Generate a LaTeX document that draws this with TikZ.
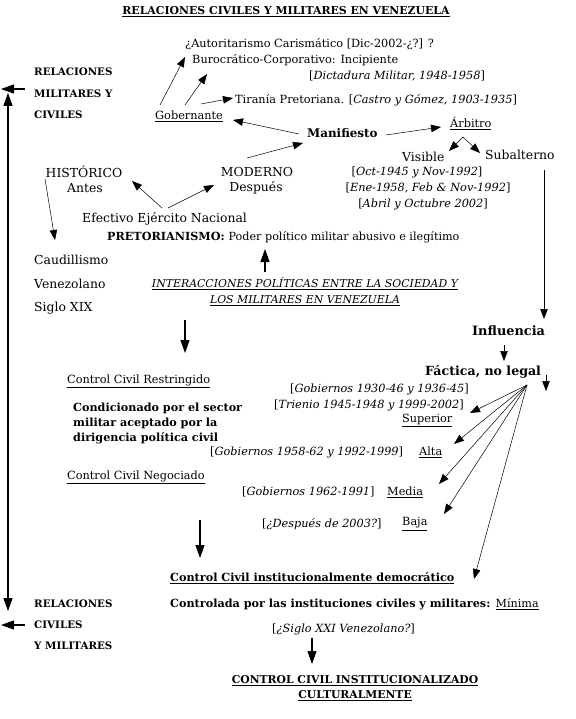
\documentclass[tikz,border=0pt]{standalone}
\usepackage{fontspec}
\setmainfont{DejaVu Serif}
\usetikzlibrary{arrows.meta}
\begin{document}
\begin{tikzpicture}[x=1pt,y=-1pt,
  lbl/.style={anchor=west,inner sep=0pt,font=\fontsize{11.3}{13}\selectfont},
  lbig/.style={anchor=west,inner sep=0pt,font=\fontsize{12.4}{14}\selectfont},
  bl/.style={anchor=west,inner sep=0pt,font=\fontsize{11.2}{13}\selectfont\bfseries},
  blbig/.style={anchor=west,inner sep=0pt,font=\fontsize{12.6}{14}\selectfont\bfseries},
  blside/.style={anchor=west,inner sep=0pt,font=\fontsize{10.3}{12}\selectfont\bfseries},
  arr/.style={-{Triangle[length=10pt,width=7.5pt]},line width=0.5pt},
  bigarr/.style={-{Triangle[length=13pt,width=9pt]},line width=1.1pt}]
\useasboundingbox (0,0) rectangle (575,719);
\fill[white] (0,0) rectangle (575,719);
% title
\node[bl,anchor=center,font=\fontsize{10.9}{13}\selectfont\bfseries] (title) at (286,12) {\underline{RELACIONES CIVILES Y MILITARES EN VENEZUELA}};
% left top
\node[blside] (rm1) at (34,72) {RELACIONES};
\node[blside] (rm2) at (34,94) {MILITARES Y};
\node[blside] (rm3) at (34,115) {CIVILES};
\coordinate (la1) at (25,89);
\coordinate (la1e) at (1,89);
\draw[bigarr] (la1) -- (la1e);
\coordinate (vtop) at (8,93);
\coordinate (vbot) at (8,611);
\draw[{Triangle[length=13pt,width=9pt]}-{Triangle[length=13pt,width=9pt]},line width=1.1pt] (vtop) -- (vbot);
% left bottom
\node[blside] (rc1) at (34,604) {RELACIONES};
\node[blside] (rc2) at (34,625) {CIVILES};
\node[blside] (rc3) at (34,646) {Y MILITARES};
\coordinate (la2) at (25,625);
\coordinate (la2e) at (1,625);
\draw[bigarr] (la2) -- (la2e);
% top center
\node[lbl] (autor) at (185,44) {¿Autoritarismo Carismático [Dic-2002-¿?] ?};
\node[lbl] (buro) at (192,60) {Burocrático-Corporativo: Incipiente};
\node[lbl] (dict) at (309,76) {[\textit{Dictadura Militar, 1948-1958}]};
\node[lbl] (tira) at (235,100) {Tiranía Pretoriana. [\textit{Castro y Gómez, 1903-1935}]};
\node[lbl] (gob) at (155,116) {\underline{Gobernante}};
\node[bl,font=\fontsize{11.9}{14}\selectfont\bfseries] (man) at (307,133) {Manifiesto};
\node[lbl] (arb) at (450,123) {\underline{Árbitro}};
\node[lbig] (vis) at (402,157) {Visible};
\node[lbig] (sub) at (485,155) {Subalterno};
\node[lbl,anchor=center] (d1) at (417,172) {[\textit{Oct-1945 y Nov-1992}]};
\node[lbl,anchor=center] (d2) at (428,188) {[\textit{Ene-1958, Feb \& Nov-1992}]};
\node[lbl,anchor=center] (d3) at (423,204) {[\textit{Abril y Octubre 2002}]};
\coordinate (g1t) at (160,105); \coordinate (g1h) at (185,57);
\coordinate (g2t) at (185,105); \coordinate (g2h) at (207,74);
\coordinate (g3t) at (201,104); \coordinate (g3h) at (233,98);
\draw[arr] (g1t) -- (g1h);
\draw[arr] (g2t) -- (g2h);
\draw[arr] (g3t) -- (g3h);
\coordinate (mgt) at (299,134); \coordinate (mgh) at (233,120);
\draw[arr] (mgt) -- (mgh);
\coordinate (mat) at (386,135); \coordinate (mah) at (441,127);
\draw[arr] (mat) -- (mah);
\coordinate (apex) at (463,137);
\coordinate (vish) at (449,151);
\coordinate (subh) at (480,153);
\draw[arr] (apex) -- (vish);
\draw[arr] (apex) -- (subh);
% historico / moderno
\node[lbig,anchor=center] (hist) at (84,172) {HISTÓRICO};
\node[lbig,anchor=center] (antes) at (85,188) {Antes};
\node[lbig,anchor=center] (mod) at (257,172) {MODERNO};
\node[lbig,anchor=center] (desp) at (256,188) {Después};
\node[lbig] (efec) at (82,219) {Efectivo Ejército Nacional};
\node[bl] (pret) at (107,237) {PRETORIANISMO: \mdseries Poder político militar abusivo e ilegítimo};
\coordinate (mmt) at (247,158); \coordinate (mmh) at (303,143);
\draw[arr] (mmt) -- (mmh);
\coordinate (e1t) at (162,208); \coordinate (e1h) at (132,181);
\coordinate (e2t) at (168,208); \coordinate (e2h) at (214,185);
\draw[arr] (e1t) -- (e1h);
\draw[arr] (e2t) -- (e2h);
\node[lbig] (cau1) at (34,260) {Caudillismo};
\node[lbig] (cau2) at (34,284) {Venezolano};
\node[lbig] (cau3) at (34,308) {Siglo XIX};
\coordinate (ht) at (45,179); \coordinate (hh) at (55,240);
\draw[arr] (ht) -- (hh);
% interacciones
\node[lbl,anchor=center,align=center,font=\fontsize{10.9}{16}\selectfont\itshape] (inter) at (305,292)
  {\underline{INTERACCIONES POLÍTICAS ENTRE LA SOCIEDAD Y}\\\underline{LOS MILITARES EN VENEZUELA}};
\coordinate (upt) at (265,272); \coordinate (uph) at (265,249);
\draw[bigarr] (upt) -- (uph);
\coordinate (dnt) at (185,320); \coordinate (dnh) at (185,353);
\draw[bigarr] (dnt) -- (dnh);
% right column
\node[blbig,font=\fontsize{12.9}{15}\selectfont\bfseries] (infl) at (472,331) {Influencia};
\node[blbig] (fact) at (425,372) {Fáctica, no legal};
\coordinate (subd) at (544,170); \coordinate (subdh) at (544,319);
\draw[arr] (subd) -- (subdh);
\coordinate (ift) at (504,345); \coordinate (ifh) at (504,361);
\draw[arr] (ift) -- (ifh);
\coordinate (fsm) at (546,375); \coordinate (fsmh) at (546,391);
\draw[arr] (fsm) -- (fsmh);
% left-middle
\node[lbl] (ccr) at (67,381) {\underline{Control Civil Restringido}};
\node[bl,align=left,font=\fontsize{11.2}{15}\selectfont\bfseries] (cond) at (73,423) {Condicionado por el sector\\militar aceptado por la\\dirigencia política civil};
\node[lbl] (g1) at (290,389) {[\textit{Gobiernos 1930-46 y 1936-45}]};
\node[lbl] (g2) at (274,405) {[\textit{Trienio 1945-1948 y 1999-2002}]};
\node[lbl] (sup) at (402,420) {\underline{Superior}};
\node[lbl] (g3) at (210,452) {[\textit{Gobiernos 1958-62 y 1992-1999}]};
\node[lbl] (alta) at (419,452) {\underline{Alta}};
\node[lbl] (ccn) at (67,477) {\underline{Control Civil Negociado}};
\node[lbl] (g4) at (242,492) {[\textit{Gobiernos 1962-1991}]};
\node[lbl] (media) at (387,492) {\underline{Media}};
\node[lbl] (g5) at (262,524) {[\textit{¿Después de 2003?}]};
\node[lbl] (baja) at (402,524) {\underline{Baja}};
\coordinate (fan) at (527,385);
\coordinate (f1) at (470,413);
\coordinate (f2) at (454,444);
\coordinate (f3) at (439,484);
\coordinate (f4) at (444,514);
\coordinate (f5) at (474,579);
\foreach \t in {f1,f2,f3,f4,f5} \draw[arr] (fan) -- (\t);
% bottom
\coordinate (cdt) at (200,520); \coordinate (cdh) at (200,558);
\draw[bigarr] (cdt) -- (cdh);
\node[bl] (ccid) at (170,578) {\underline{Control Civil institucionalmente democrático}};
\node[bl] (ctrl) at (170,604) {Controlada por las instituciones civiles y militares: \mdseries\underline{Mínima}};
\node[lbl] (siglo) at (272,629) {[\textit{¿Siglo XXI Venezolano?}]};
\node[bl,anchor=center,align=center,font=\fontsize{10.8}{15}\selectfont\bfseries] (final) at (355,688)
  {\underline{CONTROL CIVIL INSTITUCIONALIZADO}\\\underline{CULTURALMENTE}};
\coordinate (sgt) at (312,638); \coordinate (sgh) at (312,664);
\draw[bigarr] (sgt) -- (sgh);
\end{tikzpicture}
\end{document}
